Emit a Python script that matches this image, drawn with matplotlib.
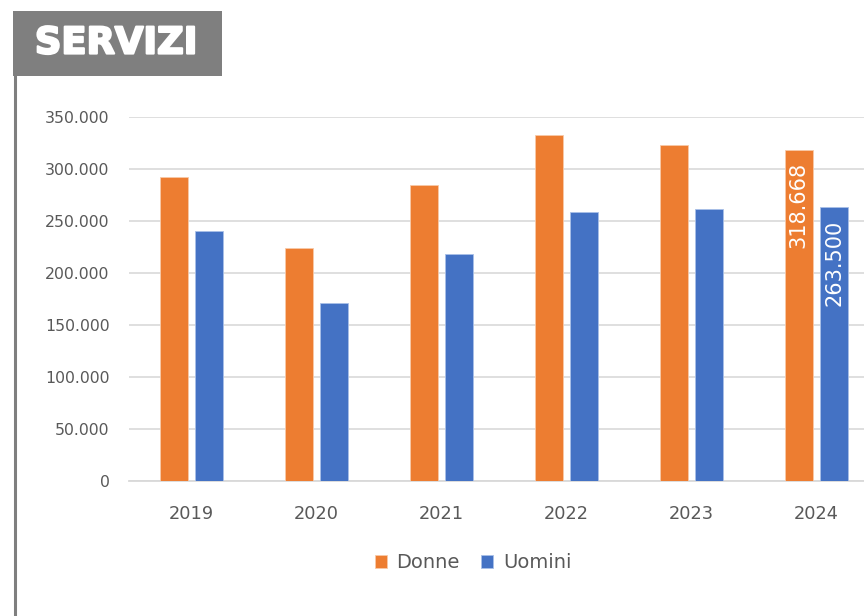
import matplotlib.pyplot as plt
import matplotlib.patheffects as pe
from matplotlib.patches import Rectangle
from matplotlib.lines import Line2D
import numpy as np

# Data
anni = ["2019", "2020", "2021", "2022", "2023", "2024"]
donne = [292300, 224500, 284400, 332500, 323200, 318668]
uomini = [240800, 171500, 218000, 258600, 261300, 263500]
y_ticks = [0, 50000, 100000, 150000, 200000, 250000, 300000, 350000]

ORANGE = "#ED7D31"
BLUE = "#4472C4"
GRAY_TXT = "#595959"
GRID = "#D9D9D9"
BOX = "#7F7F7F"

fig = plt.figure(figsize=(8.64, 6.16), dpi=100)
W, H = 864, 616

# axes placed in pixel units (right side runs past the figure edge, as in the source)
ax = fig.add_axes([129 / W, (H - 481) / H, 750 / W, 364 / H])

x = np.arange(len(anni))
bw = 0.225
off = 0.142
b1 = ax.bar(x - off, donne, bw, color=ORANGE, edgecolor="#F8C9A8", linewidth=0.6, label="Donne", zorder=3)
b2 = ax.bar(x + off, uomini, bw, color=BLUE, edgecolor="#A9C0E8", linewidth=0.6, label="Uomini", zorder=3)

ax.set_xlim(-0.5, len(anni) - 0.5)
ax.set_ylim(0, 350000)
ax.set_yticks(y_ticks)
ax.set_yticklabels([f"{v:,.0f}".replace(",", ".") for v in y_ticks])
ax.set_xticks(x)
ax.set_xticklabels(anni)
ax.yaxis.grid(True, color=GRID, linewidth=1.2, zorder=0)
ax.set_axisbelow(True)
for s in ["top", "right", "left"]:
    ax.spines[s].set_visible(False)
ax.spines["bottom"].set_color(GRID)
ax.spines["bottom"].set_linewidth(1.3)
ax.tick_params(axis="y", length=0, pad=14, labelsize=11.3, labelcolor=GRAY_TXT)
ax.tick_params(axis="x", length=0, pad=17, labelsize=12.8, labelcolor=GRAY_TXT)

# data labels for the last year only
last = len(anni) - 1
for bars, vals in [(b1, donne), (b2, uomini)]:
    r = bars[last]
    ax.annotate(f"{vals[last]:,.0f}".replace(",", "."),
                xy=(r.get_x() + r.get_width() / 2, vals[last]),
                xytext=(0, -9), textcoords="offset points",
                rotation=90, ha="center", va="top",
                color="white", fontsize=15)

# legend
leg = fig.legend(handles=[b1, b2], labels=["Donne", "Uomini"],
                 loc="center", bbox_to_anchor=(473 / W, 1 - 563 / H),
                 ncol=2, frameon=False, fontsize=14,
                 handlelength=0.62, handleheight=0.62, handletextpad=0.5,
                 columnspacing=1.1, labelcolor=GRAY_TXT)

# title box and left rule
fig.patches.append(Rectangle((13 / W, 1 - 76 / H), 209 / W, 65 / H,
                             transform=fig.transFigure, facecolor=BOX,
                             edgecolor="none", zorder=5))
fig.text(116 / W, 1 - 43 / H, "SERVIZI", color="white", fontsize=26.5,
         fontweight="bold", ha="center", va="center", zorder=6,
         path_effects=[pe.withStroke(linewidth=1.6, foreground="white")])
fig.lines.append(Line2D([14.6 / W, 14.6 / W], [0, 1 - 75 / H],
                        transform=fig.transFigure, color=BOX, linewidth=2.2))

fig.savefig("out.png", dpi=100)
